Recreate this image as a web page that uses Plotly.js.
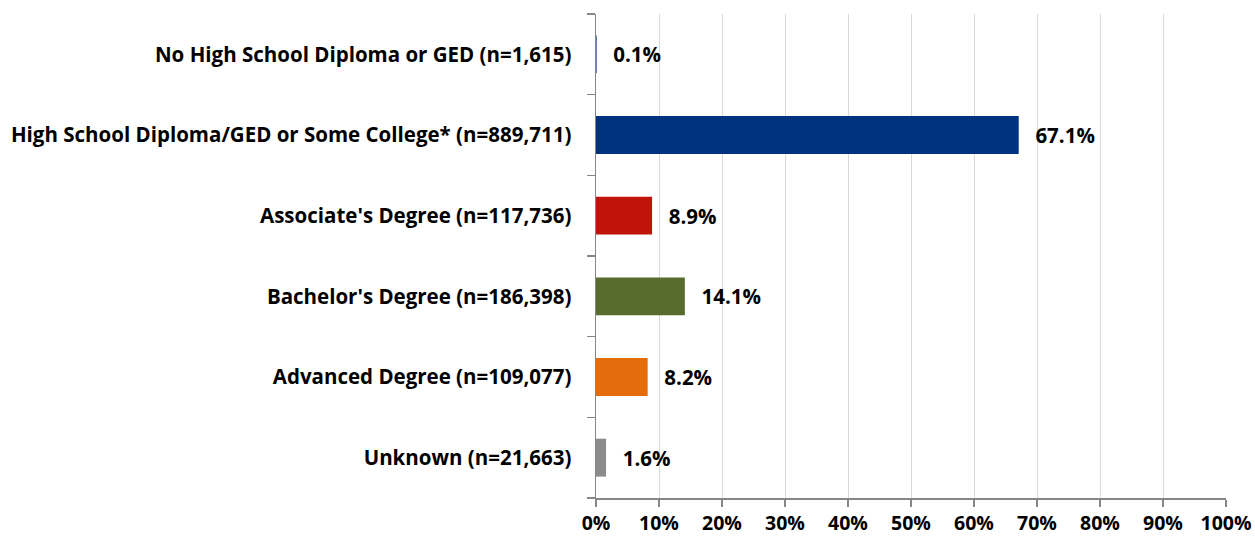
<!DOCTYPE html>
<html>
<head>
<meta charset="utf-8">
<script src="https://cdn.plot.ly/plotly-3.0.1.min.js"></script>
<style>html,body{margin:0;padding:0;background:#fff;}#chart{width:1255px;height:538px;}</style>
</head>
<body>
<div id="chart"></div>
<script>
const categories = [
  "No High School Diploma or GED (n=1,615)",
  "High School Diploma/GED or Some College* (n=889,711)",
  "Associate's Degree (n=117,736)",
  "Bachelor's Degree (n=186,398)",
  "Advanced Degree (n=109,077)",
  "Unknown (n=21,663)"
];
const percents = [0.1, 67.1, 8.9, 14.1, 8.2, 1.6];
const barColors = ["#00337F", "#00337F", "#C0140A", "#586C2E", "#E46C0A", "#8C8C8C"];
const xTickValues = [0,10,20,30,40,50,60,70,80,90,100];
const xTickLabels = xTickValues.map(v => v + "%");

const FONT = "Open Sans, Noto Sans, sans-serif";

const trace = {
  type: "bar",
  orientation: "h",
  y: categories,
  x: percents,
  marker: {color: barColors},
  width: 0.47,
  text: percents.map(v => "\u2002\u2009<b>" + v.toFixed(1) + "%</b>"),
  textposition: "outside",
  textfont: {family: FONT, size: 20.5, color: "#000"},
  cliponaxis: false,
  hoverinfo: "none"
};

const layout = {
  width: 1255, height: 538,
  margin: {l: 596, r: 29, t: 14, b: 40},
  paper_bgcolor: "#fff", plot_bgcolor: "#fff",
  showlegend: false,
  font: {family: FONT, color: "#000"},
  xaxis: {
    range: [0, 100],
    tickvals: xTickValues,
    ticktext: xTickLabels.map(t => "<b>" + t + "</b>"),
    tickfont: {family: FONT, size: 19.5, color: "#000"},
    showgrid: true, gridcolor: "#D9D9D9", gridwidth: 1,
    showline: true, linecolor: "#868686", linewidth: 2,
    ticks: "outside", ticklen: 7, tickwidth: 2, tickcolor: "#868686",
    zeroline: false,
    fixedrange: true
  },
  yaxis: {
    autorange: "reversed",
    type: "category",
    tickson: "boundaries",
    ticks: "outside", ticklen: 8, tickwidth: 1.5, tickcolor: "#868686",
    showline: true, linecolor: "#868686", linewidth: 1.5,
    showgrid: false,
    tickfont: {family: FONT, size: 20.5, color: "#000"},
    ticktext: categories.map(c => "<b>" + c + "</b>"),
    tickvals: categories,
    ticklabelstandoff: 19,
    fixedrange: true
  },
  bargap: 0.53
};

Plotly.newPlot("chart", [trace], layout, {displayModeBar: false, staticPlot: true});
</script>
</body>
</html>
